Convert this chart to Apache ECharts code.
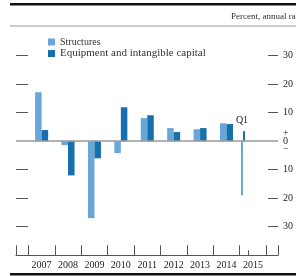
<!DOCTYPE html>
<html><head><meta charset="utf-8">
<script src="https://cdn.jsdelivr.net/npm/echarts@6/dist/echarts.min.js"></script>
<style>html,body{margin:0;padding:0;background:#fff;}#c{width:296px;height:276px;}</style>
</head><body><div id="c"></div>
<script>
var years = [2007, 2008, 2009, 2010, 2011, 2012, 2013, 2014];
var structures = [17.2, -1.4, -27, -4.2, 8.1, 4.6, 4.2, 6.3];
var equipment = [3.9, -12, -6, 11.9, 9.1, 3.2, 4.6, 6.0];
var q1Period = 2015.125;
var q1Structures = -19;
var q1Equipment = 3.5;
var yearLabels = [2007, 2008, 2009, 2010, 2011, 2012, 2013, 2014, 2015];
var yTicks = [-30, -20, -10, 10, 20, 30];
var yLabels = [-30, -20, -10, 0, 10, 20, 30];

var serif = '"Liberation Serif", "DejaVu Serif", serif';
var cLight = '#6aa6d8', cDark = '#1570ad';
var xMin = 2006.53, xMax = 2016.45;
var yearTicks = [xMin].concat(yearLabels.map(function(y){return y;}), [2016, xMax]);

var chart = echarts.init(document.getElementById('c'), null, {renderer: 'canvas'});
chart.setOption({
  animation: false,
  grid: {left: 16, right: 18, top: 27.2, bottom: 20.8},
  legend: {
    left: 48, top: 37, padding: 0, orient: 'vertical', itemWidth: 7, itemHeight: 7, itemGap: 1,
    icon: 'rect',
    formatter: function(n){ return n === 'Structures' ? '{a|' + n + '}' : '{b|' + n + '}'; },
    textStyle: {fontFamily: serif, fontSize: 10, color: '#333', lineHeight: 10,
      rich: {a: {fontFamily: serif, fontSize: 10, color: '#333', lineHeight: 10},
             b: {fontFamily: serif, fontSize: 11, color: '#333', lineHeight: 10}}},
    data: ['Structures', 'Equipment and intangible capital']
  },
  graphic: [
    {type: 'rect', shape: {x: 10, y: 3, width: 300, height: 2.5}, style: {fill: '#111'}},
    {type: 'rect', shape: {x: 10, y: 25.5, width: 300, height: 1}, style: {fill: '#999'}},
    {type: 'rect', shape: {x: 10, y: 273, width: 300, height: 2.5}, style: {fill: '#111'}},
    {type: 'text', left: 231, top: 12, style: {text: 'Percent, annual rate', font: '9px ' + serif, fill: '#333'}}
  ],
  xAxis: [{
    type: 'value', min: xMin, max: xMax, position: 'bottom',
    splitLine: {show: false},
    axisLine: {show: true, onZero: false, lineStyle: {color: '#555', width: 1}},
    axisTick: {show: true, inside: true, length: 10, customValues: yearTicks, lineStyle: {color: '#555'}},
    axisLabel: {customValues: yearLabels.map(function(y){return y + 0.5;}), margin: 5,
      formatter: function(v){return String(Math.floor(v));},
      fontFamily: serif, fontSize: 10, color: '#222'}
  }, {
    type: 'value', min: xMin, max: xMax, position: 'bottom',
    splitLine: {show: false},
    axisLine: {show: false, onZero: false},
    axisTick: {show: true, inside: true, length: 5, customValues: [2015.33], lineStyle: {color: '#555'}},
    axisLabel: {show: false}
  }],
  yAxis: [{
    type: 'value', min: -40, max: 40, position: 'left',
    splitLine: {show: false}, axisLine: {show: false},
    axisTick: {show: true, inside: true, length: 12, customValues: yTicks, lineStyle: {color: '#555'}},
    axisLabel: {show: false}
  }, {
    type: 'value', min: -40, max: 40, position: 'right',
    splitLine: {show: false}, axisLine: {show: false},
    axisTick: {show: true, inside: true, length: 10, customValues: yTicks, lineStyle: {color: '#555'}},
    axisLabel: {customValues: yLabels, margin: 5, fontFamily: serif, fontSize: 10, color: '#222', lineHeight: 8,
      formatter: function(v){return v === 0 ? '+\n0\n\u2212' : String(Math.abs(v));}}
  }],
  series: [{
    name: 'Structures', type: 'bar', xAxisIndex: 0, yAxisIndex: 0, barWidth: 6.5, barGap: 0,
    itemStyle: {color: cLight},
    data: years.map(function(y, i){return [y + 0.5, structures[i]];}),
    markLine: {silent: true, symbol: 'none', label: {show: false},
      lineStyle: {color: '#999', width: 1.5, type: 'solid'}, data: [{yAxis: 0}]}
  }, {
    name: 'Equipment and intangible capital', type: 'bar', xAxisIndex: 0, yAxisIndex: 0, barWidth: 6.5, barGap: 0,
    itemStyle: {color: cDark},
    data: years.map(function(y, i){return [y + 0.5, equipment[i]];})
  }, {
    name: 'Structures', type: 'bar', xAxisIndex: 1, yAxisIndex: 0, barWidth: 2, barGap: 0,
    itemStyle: {color: cLight},
    data: [[q1Period, q1Structures]]
  }, {
    name: 'Equipment and intangible capital', type: 'bar', xAxisIndex: 1, yAxisIndex: 0, barWidth: 2, barGap: 0,
    itemStyle: {color: cDark},
    label: {show: true, position: 'top', distance: 6, formatter: 'Q1', fontFamily: serif, fontSize: 10, color: '#222', offset: [-2, 0]},
    data: [[q1Period, q1Equipment]]
  }]
});
</script></body></html>
